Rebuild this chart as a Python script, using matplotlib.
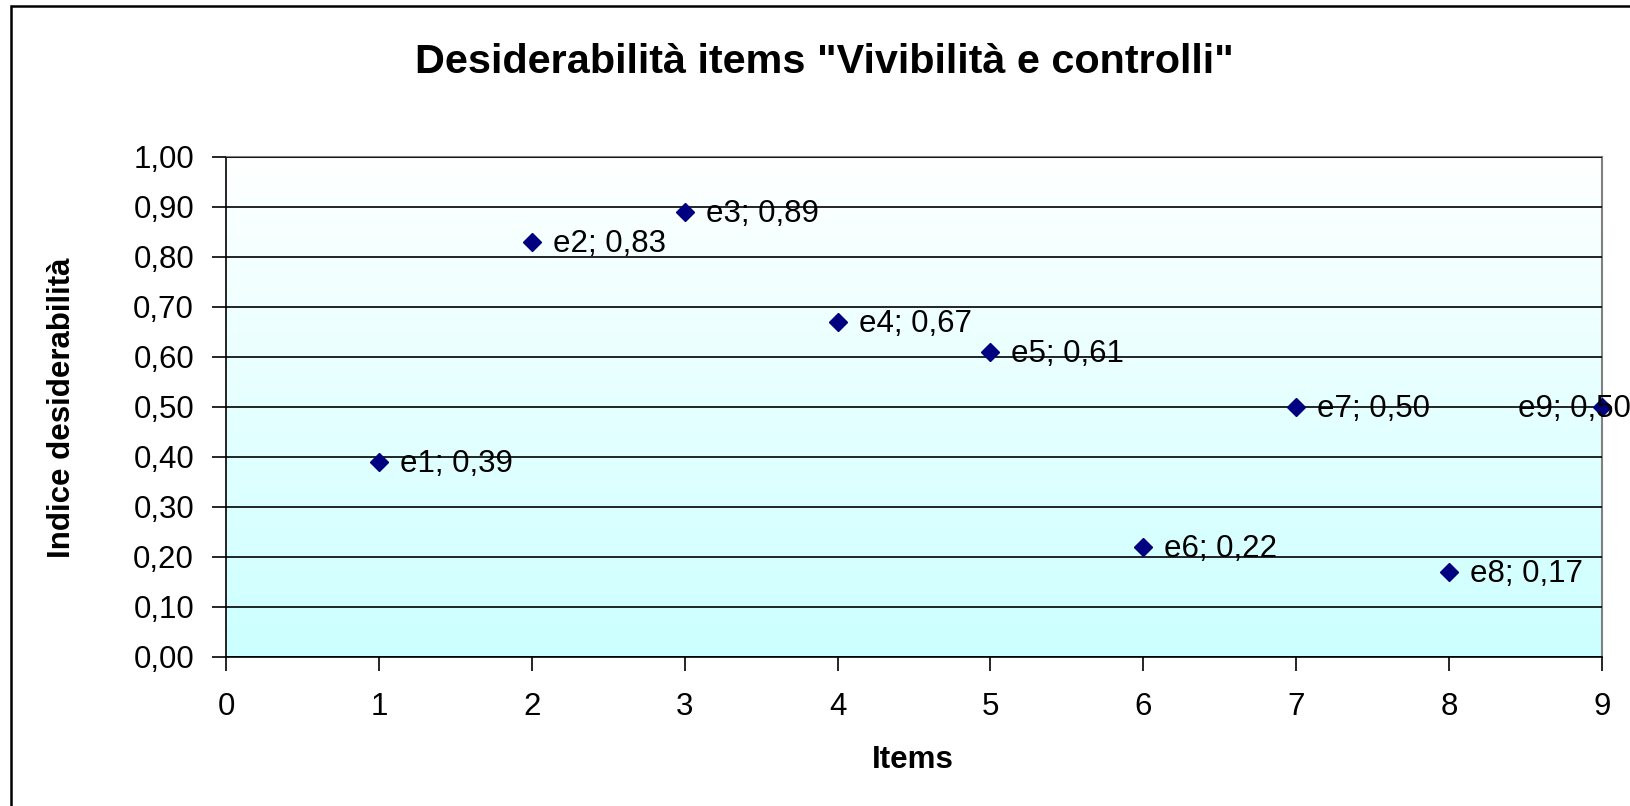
import matplotlib
matplotlib.use("Agg")
import matplotlib.pyplot as plt
import numpy as np
from matplotlib.colors import LinearSegmentedColormap
from matplotlib.patches import Rectangle

plt.rcParams['font.family'] = ['Liberation Sans', 'DejaVu Sans']

# desirability index for each item
items = ['e1', 'e2', 'e3', 'e4', 'e5', 'e6', 'e7', 'e8', 'e9']
x_vals = [1, 2, 3, 4, 5, 6, 7, 8, 9]
y_vals = [0.39, 0.83, 0.89, 0.67, 0.61, 0.22, 0.50, 0.17, 0.50]

FS = 22.5
W, H = 1630, 806
fig = plt.figure(figsize=(W / 100, H / 100), dpi=100)
ax = fig.add_axes([226 / W, 1 - 657 / H, 1376 / W, 500 / H])

# outer chart border (only left/top edges fall inside the image)
fig.patches.append(Rectangle((11 / W, -0.1), 1.2, 1 - 6 / H + 0.1,
                             transform=fig.transFigure, fill=False,
                             edgecolor='black', linewidth=1.8, zorder=0))

# plot area: white at top fading to light cyan at the bottom
cmap = LinearSegmentedColormap.from_list('bg', ['#CCFFFF', '#FFFFFF'])
grad = np.linspace(0, 1, 256).reshape(-1, 1)
ax.imshow(grad, cmap=cmap, aspect='auto', origin='lower',
          extent=[0, 9, 0, 1], zorder=0)

ax.set_xlim(0, 9)
ax.set_ylim(0, 1)
ax.set_xticks(np.arange(0, 10, 1))
ax.set_yticks(np.arange(0, 1.01, 0.1))
ax.set_yticklabels([f"{v:.2f}".replace('.', ',') for v in np.arange(0, 1.01, 0.1)])
ax.tick_params(axis='both', labelsize=FS, direction='out', length=10,
               width=1.2, color='black')
ax.tick_params(axis='y', pad=13)
ax.tick_params(axis='x', pad=15)

ax.grid(axis='y', color='black', linewidth=1.2, zorder=1)
ax.set_axisbelow(False)
for side in ['top', 'right']:
    ax.spines[side].set_color('#808080')
    ax.spines[side].set_linewidth(1.5)
for side in ['left', 'bottom']:
    ax.spines[side].set_color('black')
    ax.spines[side].set_linewidth(1.2)

ax.plot(x_vals, y_vals, linestyle='none', marker='D', markersize=9,
        color='#000080', zorder=3, clip_on=False)

# data labels "eN; value" to the right of each point, last one pulled back inside
for name, xv, yv in zip(items, x_vals, y_vals):
    txt = f"{name}; {yv:.2f}".replace('.', ',')
    dx = -84 if xv == 9 else 21
    ax.annotate(txt, (xv, yv), xytext=(dx, -2), textcoords='offset pixels',
                ha='left', va='center', fontsize=FS, zorder=4,
                annotation_clip=False)

fig.text(824 / W, 1 - 62 / H, 'Desiderabilità items "Vivibilità e controlli"',
         ha='center', va='center', fontsize=29.8, fontweight='bold')
fig.text(913 / W, 1 - 760 / H, 'Items', ha='center', va='center',
         fontsize=FS, fontweight='bold')
fig.text(62 / W, 1 - 408 / H, 'Indice desiderabilità', ha='center',
         va='center', rotation=90, fontsize=FS, fontweight='bold')

fig.savefig('out.png', dpi=100)
